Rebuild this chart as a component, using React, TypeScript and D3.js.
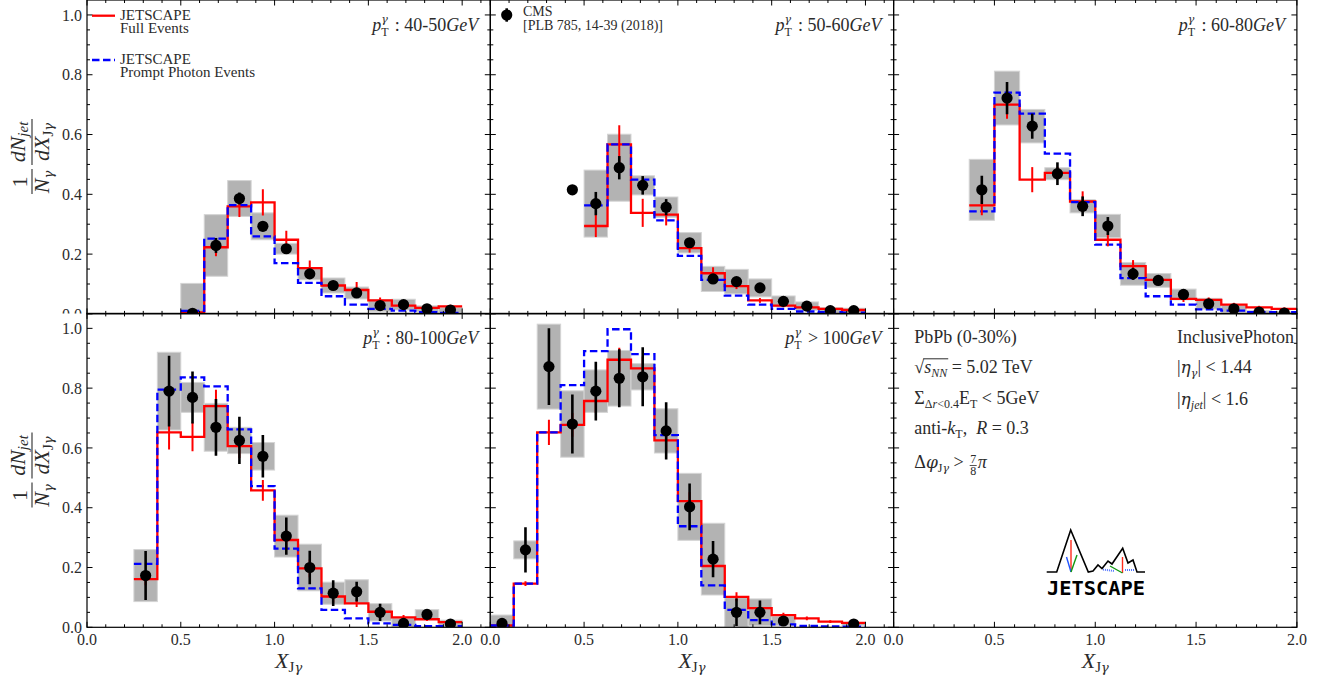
import React, { useEffect, useRef } from 'react';
import * as d3 from 'd3';

// X_Jgamma binning (16 bins of 0.125)
const BIN_EDGES = [0, 0.125, 0.25, 0.375, 0.5, 0.625, 0.75, 0.875, 1.0, 1.125, 1.25, 1.375, 1.5, 1.625, 1.75, 1.875, 2.0];
const Y_TICKS = [0, 0.2, 0.4, 0.6, 0.8, 1.0];

const PT_RANGES = ['40-50', '50-60', '60-80', '80-100', '100'];
const PT_SIGNS = [':', ':', ':', ':', '>'];

const n = null;

// pT 40-50 GeV
const FULL_1 = [n, n, n, n, 0.005, 0.223, 0.36, 0.373, 0.248, 0.153, 0.095, 0.08, 0.045, 0.028, 0.02, 0.025];
const FULL_ERR_1 = [n, n, n, n, 0.005, 0.03, 0.036, 0.044, 0.03, 0.026, 0.015, 0.027, 0.01, 0.008, 0.006, 0.006];
const PROMPT_1 = [n, n, n, n, 0.01, 0.252, 0.364, 0.259, 0.17, 0.104, 0.059, 0.031, 0.017, 0.011, 0.006, 0.003];
const CMS_1 = [n, n, n, n, 0.002, 0.229, 0.386, 0.293, 0.218, 0.134, 0.095, 0.07, 0.028, 0.031, 0.017, 0.013];
const CMS_STAT_1 = [n, n, n, n, 0.005, 0.025, 0.02, 0.01, 0.01, 0.015, 0.01, 0.01, 0.008, 0.008, 0.005, 0.005];
const CMS_SYS_1 = [n, n, n, n, 0.1, 0.103, 0.06, 0.045, 0.018, 0.02, 0.025, 0.02, 0.02, 0.018, 0.01, 0.008];

// pT 50-60 GeV
const FULL_2 = [n, n, n, n, 0.294, 0.567, 0.338, 0.332, 0.22, 0.136, 0.093, 0.045, 0.028, 0.022, 0.017, 0.013];
const FULL_ERR_2 = [n, n, n, n, 0.037, 0.064, 0.047, 0.036, 0.015, 0.02, 0.01, 0.008, 0.006, 0.005, 0.004, 0.004];
const PROMPT_2 = [n, n, n, n, 0.363, 0.567, 0.449, 0.313, 0.194, 0.114, 0.061, 0.031, 0.017, 0.008, 0.006, 0.004];
const CMS_2 = [n, n, n, 0.415, 0.369, 0.489, 0.43, 0.357, 0.238, 0.117, 0.108, 0.087, 0.042, 0.026, 0.011, 0.011];
const CMS_STAT_2 = [n, n, n, 0, 0.039, 0.039, 0.031, 0.027, 0.015, 0.012, 0.01, 0.01, 0.008, 0.006, 0.005, 0.004];
const CMS_SYS_2 = [n, n, n, 0, 0.112, 0.112, 0.032, 0.034, 0.034, 0.042, 0.041, 0.03, 0.018, 0.014, 0.01, 0.008];

// pT 60-80 GeV
const FULL_3 = [n, n, n, 0.363, 0.7, 0.449, 0.472, 0.376, 0.248, 0.16, 0.114, 0.05, 0.047, 0.031, 0.022, 0.017];
const FULL_ERR_3 = [n, n, n, 0.033, 0.047, 0.042, 0.02, 0.034, 0.022, 0.02, 0.012, 0.01, 0.008, 0.006, 0.005, 0.004];
const PROMPT_3 = [n, n, n, 0.343, 0.74, 0.67, 0.536, 0.374, 0.232, 0.12, 0.059, 0.031, 0.015, 0.011, 0.006, 0.006];
const CMS_3 = [n, n, n, 0.415, 0.722, 0.628, 0.469, 0.36, 0.294, 0.134, 0.112, 0.065, 0.034, 0.017, 0.006, 0.003];
const CMS_STAT_3 = [n, n, n, 0.047, 0.054, 0.042, 0.038, 0.033, 0.03, 0.02, 0.012, 0.01, 0.008, 0.006, 0.004, 0.003];
const CMS_SYS_3 = [n, n, n, 0.102, 0.09, 0.056, 0.02, 0.022, 0.039, 0.038, 0.023, 0.018, 0.018, 0.012, 0.005, 0.004];

// pT 80-100 GeV
const FULL_4 = [n, n, 0.161, 0.652, 0.637, 0.74, 0.606, 0.458, 0.292, 0.197, 0.103, 0.08, 0.052, 0.033, 0.027, 0.017];
const FULL_ERR_4 = [n, n, 0.02, 0.057, 0.048, 0.055, 0.04, 0.035, 0.033, 0.03, 0.02, 0.012, 0.01, 0.008, 0.006, 0.005];
const PROMPT_4 = [n, n, 0.212, 0.795, 0.836, 0.806, 0.662, 0.472, 0.263, 0.13, 0.058, 0.03, 0.013, 0.008, 0.004, 0.004];
const CMS_4 = [n, n, 0.173, 0.79, 0.769, 0.669, 0.625, 0.572, 0.305, 0.2, 0.114, 0.119, 0.05, 0.013, 0.043, 0.011];
const CMS_STAT_4 = [n, n, 0.082, 0.118, 0.087, 0.095, 0.079, 0.071, 0.062, 0.056, 0.043, 0.033, 0.029, 0.01, 0.01, 0.008];
const CMS_SYS_4 = [n, n, 0.087, 0.13, 0.05, 0.08, 0.044, 0.046, 0.07, 0.078, 0.037, 0.04, 0.029, 0.018, 0.016, 0.013];

// pT > 100 GeV
const FULL_5 = [0.006, 0.146, 0.652, 0.677, 0.757, 0.895, 0.866, 0.625, 0.422, 0.205, 0.102, 0.064, 0.041, 0.03, 0.019, 0.015];
const FULL_ERR_5 = [0.004, 0.008, 0.042, 0.04, 0.04, 0.04, 0.04, 0.035, 0.03, 0.02, 0.015, 0.012, 0.008, 0.006, 0.005, 0.004];
const PROMPT_5 = [0.006, 0.146, 0.652, 0.81, 0.924, 0.997, 0.914, 0.643, 0.338, 0.14, 0.058, 0.024, 0.01, 0.005, 0.003, 0.002];
const CMS_5 = [0.013, 0.259, 0.872, 0.68, 0.79, 0.833, 0.838, 0.657, 0.403, 0.228, 0.05, 0.05, 0.021, n, n, 0.011];
const CMS_STAT_5 = [0.01, 0.076, 0.128, 0.099, 0.098, 0.097, 0.099, 0.096, 0.078, 0.061, 0.046, 0.04, 0.016, n, n, 0.006];
const CMS_SYS_5 = [0.028, 0.03, 0.142, 0.111, 0.071, 0.093, 0.044, 0.074, 0.112, 0.12, 0.049, 0.045, 0.016, n, n, 0.005];

const PANELS = [
  { full: FULL_1, fullErr: FULL_ERR_1, prompt: PROMPT_1, cms: CMS_1, stat: CMS_STAT_1, sys: CMS_SYS_1 },
  { full: FULL_2, fullErr: FULL_ERR_2, prompt: PROMPT_2, cms: CMS_2, stat: CMS_STAT_2, sys: CMS_SYS_2 },
  { full: FULL_3, fullErr: FULL_ERR_3, prompt: PROMPT_3, cms: CMS_3, stat: CMS_STAT_3, sys: CMS_SYS_3 },
  { full: FULL_4, fullErr: FULL_ERR_4, prompt: PROMPT_4, cms: CMS_4, stat: CMS_STAT_4, sys: CMS_SYS_4 },
  { full: FULL_5, fullErr: FULL_ERR_5, prompt: PROMPT_5, cms: CMS_5, stat: CMS_STAT_5, sys: CMS_SYS_5 },
];

const W = 1329;
const H = 681;
const LEFT = 87;
const PW = 403.3;
const ROW_TOP = [0, 313.4];
const PH = 313.9;
const Y_MAX = 1.05;
const SERIF = "'Liberation Serif', 'DejaVu Serif', serif";
const GREEK = "'DejaVu Serif', serif";
const TXT = '#2b2b2b';

type Run = { t: string; it?: boolean; fs?: number; dx?: number; dy?: number; gr?: boolean };

function addRuns(text: any, list: Run[]) {
  list.forEach(r => {
    const ts = text.append('tspan').text(r.t);
    if (r.it) ts.attr('font-style', 'italic');
    if (r.fs) ts.attr('font-size', r.fs);
    if (r.gr) ts.attr('font-family', GREEK);
    if (r.dx) ts.attr('dx', r.dx);
    if (r.dy) ts.attr('dy', r.dy);
  });
  return text;
}

// finite values -> step points (left edges + closing right edge)
function stepPoints(vals: (number | null)[]) {
  const idx = vals.map((v, i) => (v == null ? -1 : i)).filter(i => i >= 0);
  const pts: [number, number][] = idx.map(i => [BIN_EDGES[i], vals[i] as number]);
  const last = idx[idx.length - 1];
  pts.push([BIN_EDGES[last + 1], vals[last] as number]);
  return pts;
}

function drawAxes(svg: any, x: any, y: any, left: number, top: number, showX: boolean, showY: boolean, clipId: string | null) {
  const g = svg.append('g').attr('stroke', '#000');
  const right = left + PW;
  const bottom = top + PH;
  const xMax = x.domain()[1];
  const majX = d3.range(0, xMax + 1e-6, 0.5);
  const minX = d3.range(0, xMax + 1e-6, 0.1).filter(v => Math.abs(v * 2 - Math.round(v * 2)) > 1e-6);
  const majY = Y_TICKS;
  const minY = d3.range(0.05, Y_MAX - 1e-6, 0.05).filter(v => Math.abs(v * 5 - Math.round(v * 5)) > 1e-6);

  const tick = (x1: number, y1: number, x2: number, y2: number) =>
    g.append('line').attr('x1', x1).attr('y1', y1).attr('x2', x2).attr('y2', y2).attr('stroke-width', 1);

  majX.forEach(v => { tick(x(v), bottom, x(v), bottom - 5.5); tick(x(v), top, x(v), top + 5.5); });
  minX.forEach(v => { tick(x(v), bottom, x(v), bottom - 3); tick(x(v), top, x(v), top + 3); });
  majY.forEach(v => { tick(left, y(v), left + 5.5, y(v)); tick(right, y(v), right - 5.5, y(v)); });
  minY.forEach(v => { tick(left, y(v), left + 3, y(v)); tick(right, y(v), right - 3, y(v)); });

  g.append('rect').attr('x', left).attr('y', top).attr('width', PW).attr('height', PH)
    .attr('fill', 'none').attr('stroke-width', 1.2);

  const fmt = d3.format('.1f');
  if (showX) {
    svg.append('g').selectAll('text').data(majX).enter().append('text')
      .attr('x', (d: number) => x(d)).attr('y', bottom + 18)
      .attr('text-anchor', 'middle').attr('font-family', SERIF).attr('font-size', 16).attr('fill', TXT)
      .text((d: number) => fmt(d));
  }
  if (showY) {
    const lg = svg.append('g');
    if (clipId) lg.attr('clip-path', `url(#${clipId})`);
    lg.selectAll('text').data(majY).enter().append('text')
      .attr('x', left - 5).attr('y', (d: number) => y(d)).attr('dy', '0.35em')
      .attr('text-anchor', 'end').attr('font-family', SERIF).attr('font-size', 16).attr('fill', TXT)
      .text((d: number) => fmt(d));
  }
}

function drawYTitle(svg: any, cy: number) {
  const g = svg.append('g').attr('transform', `translate(32,${cy}) rotate(-90)`)
    .attr('font-family', SERIF).attr('font-size', 22).attr('fill', TXT);
  g.append('text').attr('x', -25).attr('y', -5).attr('text-anchor', 'middle').text('1');
  g.append('line').attr('x1', -37).attr('x2', -12).attr('y1', 0).attr('y2', 0).attr('stroke', TXT).attr('stroke-width', 1.1);
  addRuns(g.append('text').attr('x', -25).attr('y', 17).attr('text-anchor', 'middle'),
    [{ t: 'N', it: true }, { t: 'γ', it: true, gr: true, fs: 13, dy: 4 }]);
  addRuns(g.append('text').attr('x', 15).attr('y', -7).attr('text-anchor', 'middle'),
    [{ t: 'dN', it: true }, { t: 'jet', it: true, fs: 15, dy: 3 }]);
  g.append('line').attr('x1', -8).attr('x2', 38).attr('y1', 0).attr('y2', 0).attr('stroke', TXT).attr('stroke-width', 1.1);
  addRuns(g.append('text').attr('x', 15).attr('y', 17).attr('text-anchor', 'middle'),
    [{ t: 'dX', it: true }, { t: 'J', fs: 15, dy: 4 }, { t: 'γ', it: true, gr: true, fs: 13 }]);
}

function drawInfo(svg: any, left: number, top: number) {
  const lx = left + 20.7;
  const rx = left + 283.4;
  const base = top + 29.9;
  const mk = (xx: number, yy: number) => svg.append('text').attr('x', xx).attr('y', yy)
    .attr('font-family', SERIF).attr('font-size', 18).attr('fill', TXT).style('white-space', 'pre');

  mk(lx, base).text('PbPb (0-30%)');

  const t2 = addRuns(mk(lx, base + 30), [{ t: '√' }, { t: 's', it: true }, { t: 'NN', it: true, fs: 12, dy: 4 }, { t: ' = 5.02 TeV', dy: -4 }]);
  const n2 = t2.node();
  const a = n2.getSubStringLength(0, 1);
  const b = n2.getSubStringLength(0, 4);
  svg.append('line').attr('x1', lx + a - 1).attr('x2', lx + b + 1).attr('y1', base + 30 - 14.5).attr('y2', base + 30 - 14.5)
    .attr('stroke', TXT).attr('stroke-width', 1);

  addRuns(mk(lx, base + 60.7), [{ t: 'Σ' }, { t: 'Δ', fs: 12, dy: 4 }, { t: 'r', it: true, fs: 12 }, { t: '<0.4', fs: 12 },
    { t: 'E', dy: -4 }, { t: 'T', fs: 12, dy: 4 }, { t: ' < 5GeV', dy: -4 }]);

  addRuns(mk(lx, base + 90.7), [{ t: 'anti-' }, { t: 'k', it: true }, { t: 'T', fs: 12, dy: 4 }, { t: ',  ', dy: -4 },
    { t: 'R', it: true }, { t: ' = 0.3' }]);

  const y5 = base + 124.7;
  const t5 = addRuns(mk(lx, y5), [{ t: 'Δ' }, { t: 'φ', it: true, gr: true, fs: 17 }, { t: 'J', fs: 12, dy: 4 },
    { t: 'γ', it: true, gr: true, fs: 11 }, { t: ' > ', dy: -4 }]);
  const fx = lx + t5.node().getComputedTextLength() + 1.5;
  const small = (s: string, yy: number) => svg.append('text').attr('x', fx + 3.5).attr('y', yy).attr('text-anchor', 'middle')
    .attr('font-family', SERIF).attr('font-size', 12).attr('fill', TXT).text(s);
  small('7', y5 - 5);
  small('8', y5 + 6.5);
  svg.append('line').attr('x1', fx).attr('x2', fx + 7).attr('y1', y5 - 2.5).attr('y2', y5 - 2.5).attr('stroke', TXT).attr('stroke-width', 0.8);
  mk(fx + 8, y5).attr('font-style', 'italic').text('π');

  mk(rx, base - 0.5).text('InclusivePhoton');
  addRuns(mk(rx, base + 30), [{ t: '|' }, { t: 'η', it: true, gr: true, fs: 17 }, { t: 'γ', it: true, gr: true, fs: 11, dy: 4 }, { t: '| < 1.44', dy: -4 }]);
  addRuns(mk(rx, base + 62), [{ t: '|' }, { t: 'η', it: true, gr: true, fs: 17 }, { t: 'jet', it: true, fs: 12, dy: 4 }, { t: '| < 1.6', dy: -4 }]);

  // JETSCAPE logo
  const lg = svg.append('g');
  const outline: [number, number][] = [[1046.7, 572], [1056.7, 572], [1070.7, 530], [1088.3, 572], [1093, 571], [1098, 565],
    [1102, 568.5], [1108, 561], [1112, 564], [1122.7, 548.3], [1128, 563], [1133, 560], [1137, 572], [1145, 572]];
  lg.append('path').attr('d', d3.line()(outline)).attr('fill', 'none').attr('stroke', '#000').attr('stroke-width', 1.6);
  lg.append('line').attr('x1', 1071).attr('y1', 540).attr('x2', 1071).attr('y2', 572).attr('stroke', '#ff2a1a').attr('stroke-width', 1.4);
  lg.append('line').attr('x1', 1066.5).attr('y1', 557).attr('x2', 1071).attr('y2', 572).attr('stroke', '#2255ff').attr('stroke-width', 1.4);
  lg.append('line').attr('x1', 1077).attr('y1', 555).attr('x2', 1071).attr('y2', 572).attr('stroke', '#119911').attr('stroke-width', 1.4);
  lg.append('line').attr('x1', 1122.5).attr('y1', 557).attr('x2', 1122.5).attr('y2', 573).attr('stroke', '#ff2a1a').attr('stroke-width', 1.4);
  lg.append('line').attr('x1', 1110).attr('y1', 566).attr('x2', 1122.5).attr('y2', 573).attr('stroke', '#119911').attr('stroke-width', 1.4);
  lg.append('line').attr('x1', 1103).attr('y1', 569.5).attr('x2', 1114).attr('y2', 571).attr('stroke', '#5577ff').attr('stroke-width', 2).attr('stroke-dasharray', '1,1');
  lg.append('line').attr('x1', 1125).attr('y1', 570).attr('x2', 1134).attr('y2', 570).attr('stroke', '#5577ff').attr('stroke-width', 2).attr('stroke-dasharray', '1,1');
  lg.append('text').attr('x', 1047).attr('y', 595).attr('textLength', 98).attr('lengthAdjust', 'spacingAndGlyphs')
    .attr('font-family', "'DejaVu Sans Mono', monospace").attr('font-weight', 'bold').attr('font-size', 20).attr('fill', '#000')
    .text('JETSCAPE');
}

export default function App() {
  const svgRef = useRef<SVGSVGElement>(null);

  useEffect(() => {
    const svg = d3.select(svgRef.current);
    svg.selectAll('*').remove();
    svg.append('rect').attr('width', W).attr('height', H).attr('fill', '#fff');
    const defs = svg.append('defs');
    defs.append('clipPath').attr('id', 'ylab-top').append('rect').attr('x', 0).attr('y', 0).attr('width', LEFT).attr('height', ROW_TOP[1]);

    for (let i = 0; i < 6; i++) {
      const col = i % 3;
      const row = Math.floor(i / 3);
      const left = LEFT + col * PW;
      const top = ROW_TOP[row];
      const xMax = col === 2 ? 2.0 : 2.15;
      const x = d3.scaleLinear().domain([0, xMax]).range([left, left + PW]);
      const y = d3.scaleLinear().domain([0, Y_MAX]).range([top + PH, top]);

      if (i < 5) {
        const p = PANELS[i];
        const clipId = `clip-${i}`;
        defs.append('clipPath').attr('id', clipId).append('rect').attr('x', left).attr('y', top).attr('width', PW).attr('height', PH);
        const g = svg.append('g').attr('clip-path', `url(#${clipId})`);

        // CMS systematic boxes
        p.cms.forEach((v, k) => {
          const s = p.sys[k];
          if (v == null || !s) return;
          g.append('rect').attr('x', x(BIN_EDGES[k])).attr('width', x(BIN_EDGES[k + 1]) - x(BIN_EDGES[k]))
            .attr('y', y(v + s)).attr('height', y(v - s) - y(v + s))
            .attr('fill', '#b3b3b3').attr('stroke', '#d4d4d4').attr('stroke-width', 1);
        });

        const line = d3.line<[number, number]>().x(d => x(d[0])).y(d => y(d[1])).curve(d3.curveStepAfter);
        g.append('path').attr('d', line(stepPoints(p.full))).attr('fill', 'none')
          .attr('stroke', '#ff0000').attr('stroke-width', 2.3).attr('stroke-linejoin', 'miter');
        g.append('path').attr('d', line(stepPoints(p.prompt))).attr('fill', 'none')
          .attr('stroke', '#0000ff').attr('stroke-width', 2.3).attr('stroke-dasharray', '7.5,3.5').attr('stroke-linejoin', 'miter');

        // JETSCAPE statistical errors
        p.full.forEach((v, k) => {
          const e = p.fullErr[k];
          if (v == null || !e) return;
          const cx = x((BIN_EDGES[k] + BIN_EDGES[k + 1]) / 2);
          g.append('line').attr('x1', cx).attr('x2', cx).attr('y1', y(v - e)).attr('y2', y(v + e))
            .attr('stroke', '#ff0000').attr('stroke-width', 2);
        });

        // CMS points
        p.cms.forEach((v, k) => {
          if (v == null) return;
          const cx = x((BIN_EDGES[k] + BIN_EDGES[k + 1]) / 2);
          const e = p.stat[k];
          if (e) {
            g.append('line').attr('x1', cx).attr('x2', cx).attr('y1', y(v - e)).attr('y2', y(v + e))
              .attr('stroke', '#000').attr('stroke-width', 2.6);
          }
          g.append('circle').attr('cx', cx).attr('cy', y(v)).attr('r', 5.6).attr('fill', '#000');
        });

        // title
        addRuns(svg.append('text').attr('x', left + PW - 12).attr('y', top + 30.7).attr('text-anchor', 'end')
          .attr('font-family', SERIF).attr('font-size', 18).attr('fill', TXT).style('white-space', 'pre'),
          [{ t: 'p', it: true }, { t: 'T', fs: 12, dy: 5 }, { t: 'γ', it: true, gr: true, fs: 11, dx: -7.3, dy: -13 },
            { t: ` ${PT_SIGNS[i]} ${PT_RANGES[i]}`, dx: 2.5, dy: 8 }, { t: 'GeV', it: true }]);
      } else {
        drawInfo(svg, left, top);
      }

      drawAxes(svg, x, y, left, top, row === 1, col === 0, row === 0 ? 'ylab-top' : null);

      if (row === 1) {
        addRuns(svg.append('text').attr('x', left + PW / 2).attr('y', 668).attr('text-anchor', 'middle')
          .attr('font-family', SERIF).attr('font-size', 22).attr('fill', TXT),
          [{ t: 'X', it: true }, { t: 'J', fs: 15, dy: 4 }, { t: 'γ', it: true, gr: true, fs: 13 }]);
      }
    }

    drawYTitle(svg, 157);
    drawYTitle(svg, 470.5);

    // legend: JETSCAPE curves (panel 1)
    const lt = (xx: number, yy: number, s: string, fs: number) => svg.append('text').attr('x', xx).attr('y', yy)
      .attr('font-family', SERIF).attr('font-size', fs).attr('fill', TXT).text(s);
    svg.append('line').attr('x1', 92).attr('x2', 115).attr('y1', 15.7).attr('y2', 15.7).attr('stroke', '#ff0000').attr('stroke-width', 2.3);
    lt(120, 19.5, 'JETSCAPE', 15);
    lt(120, 33, 'Full Events', 15);
    svg.append('line').attr('x1', 92).attr('x2', 115).attr('y1', 60).attr('y2', 60).attr('stroke', '#0000ff').attr('stroke-width', 2.3)
      .attr('stroke-dasharray', '7.5,3.5');
    lt(120, 63.5, 'JETSCAPE', 15);
    lt(120, 77, 'Prompt Photon Events', 15);

    // legend: CMS data (panel 2)
    svg.append('line').attr('x1', 506.7).attr('x2', 506.7).attr('y1', 8.3).attr('y2', 21.7).attr('stroke', '#000').attr('stroke-width', 2.6);
    svg.append('circle').attr('cx', 506.7).attr('cy', 15).attr('r', 5.6).attr('fill', '#000');
    lt(523, 15.5, 'CMS', 14);
    lt(523, 30, '[PLB 785, 14-39 (2018)]', 14);
  }, []);

  return (
    <div style={{ position: 'absolute', left: 0, top: 0, width: W, height: H, background: '#fff' }}>
      <svg ref={svgRef} width={W} height={H} style={{ display: 'block' }} />
    </div>
  );
}
